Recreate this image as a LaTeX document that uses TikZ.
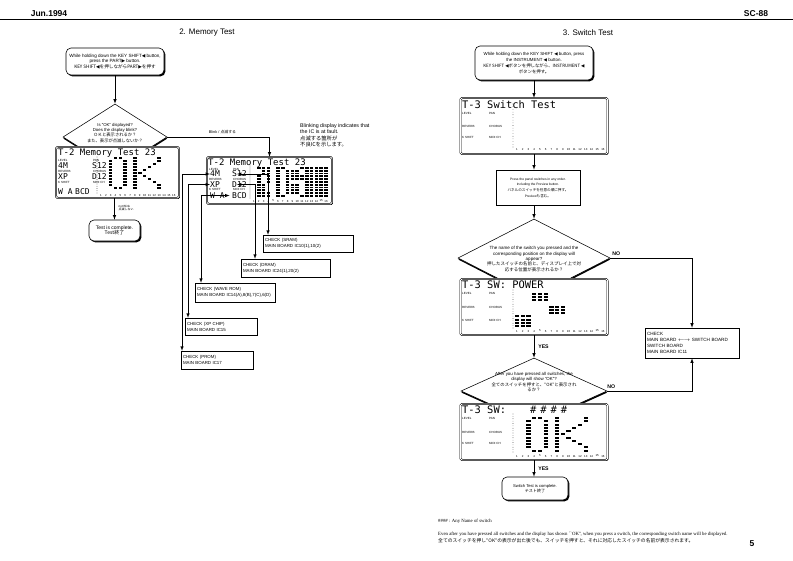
\documentclass[tikz,border=0pt]{standalone}
\usepackage{fontspec}
\setmainfont{Liberation Sans}
\newfontfamily\jp{Noto Sans CJK JP}
\newfontfamily\sym{DejaVu Sans}
\newfontfamily\lcdfont{DejaVu Sans Mono}
\newfontfamily\notefont{Liberation Serif}
\usetikzlibrary{shapes.geometric,shadows}

\newcommand{\keyL}{{\sym ◀}}
\newcommand{\keyR}{{\sym ▶}}

% dot matrix maps (column/row)
\newcommand{\okmap}{2/1,2/2,2/3,2/4,2/5,2/6,2/7,2/8,2/9,3/0,4/0,3/10,4/10,5/1,5/2,5/3,5/4,5/5,5/6,5/7,5/8,5/9,7/0,7/1,7/2,7/3,7/4,7/5,7/6,7/7,7/8,7/9,7/10,8/5,9/4,9/6,10/3,10/7,11/2,11/8,12/0,12/1,12/9,12/10}
\newcommand{\ngmap}{0/0,0/1,0/2,0/3,0/4,0/5,0/6,0/7,0/8,0/9,0/10,1/1,1/2,2/3,2/4,2/5,3/6,3/7,3/8,4/0,4/1,4/2,4/3,4/4,4/5,4/6,4/7,4/8,4/9,4/10,6/1,6/2,6/3,6/4,6/5,6/6,6/7,6/8,6/9,7/0,8/0,9/0,7/10,8/10,9/10,10/1,10/2,8/5,9/5,10/5,10/6,10/7,10/8,10/9}
\newcommand{\powermap}{3/0,4/0,5/0,3/1,4/1,5/1,3/2,4/2,5/2,6/4,7/4,8/4,6/5,7/5,8/5,6/6,7/6,8/6,0/7,1/7,2/7,0/8,1/8,2/8,0/9,1/9,2/9,0/10,1/10,2/10}

% x0, y0, dx, dy, map
\newcommand{\lcddots}[6][black]{%
  \foreach \cc/\rr in #6 {\fill[#1] (#2+\cc*#4-0.37*#4, #3+\rr*#5) rectangle ++(0.74*#4, 0.62*#5);}}
\newcommand{\lcdfull}[4]{%
  \foreach \cc in {0,...,15} {\foreach \rr in {0,...,10} {\fill (#1+\cc*#3-0.37*#3, #2+\rr*#4) rectangle ++(0.74*#3, 0.62*#4);}}}
\newcommand{\lcdscale}[3]{%
  \foreach \k in {0,...,16} {\fill (#1, {#2+\k*(#3-#2)/16}) circle (0.3);}}
\newcommand{\lcdnums}[4]{%
  \foreach \n in {1,...,16} {\node[lcdnum] (#1\n) at ({#2+(\n-1)*#3}, #4) {\n};}}
\newcommand{\lcdlabels}[6]{%
  \node[lcdlbl] (#1lev) at (#2,#4) {LEVEL}; \node[lcdlbl] (#1pan) at (#3,#4) {PAN};
  \node[lcdlbl] (#1rev) at (#2,#5) {REVERB}; \node[lcdlbl] (#1cho) at (#3,#5) {CHORUS};
  \node[lcdlbl] (#1ksh) at (#2,#6) {K SHIFT}; \node[lcdlbl] (#1mid) at (#3,#6) {MIDI CH};}

\begin{document}
\begin{tikzpicture}[x=1pt, y=-1pt,
    every node/.style={inner sep=0pt},
    hdr/.style={font=\fontsize{8.5}{9}\selectfont\bfseries},
    ttl/.style={font=\fontsize{8}{9}\selectfont},
    startbox/.style={draw, line width=0.6pt, rounded corners=5pt, fill=white, align=center,
      drop shadow={shadow xshift=1.4pt, shadow yshift=-1.4pt, opacity=1, fill=black}},
    stepbox/.style={draw, line width=0.6pt, fill=white, align=center,
      drop shadow={shadow xshift=1.4pt, shadow yshift=-1.4pt, opacity=1, fill=black}},
    chk/.style={draw, line width=0.5pt, fill=white, align=left, inner xsep=2pt,
      font=\fontsize{4.4}{6}\selectfont,
      drop shadow={shadow xshift=1.1pt, shadow yshift=-1.1pt, opacity=1, fill=black}},
    decide/.style={diamond, aspect=1.5, draw, line width=0.55pt, fill=white,
      drop shadow={shadow xshift=0.3pt, shadow yshift=-1.6pt, opacity=1, fill=black}},
    lcd/.style={draw, double, double distance=0.9pt, line width=0.5pt, rounded corners=1.5pt,
      fill=white, drop shadow={shadow xshift=0.9pt, shadow yshift=-0.9pt, opacity=1, fill=black}},
    lcdttl/.style={anchor=west, font=\fontsize{10.4}{10.4}\lcdfont},
    lcdsub/.style={anchor=west, font=\fontsize{9}{9}\lcdfont},
    lcdval/.style={anchor=west, font=\fontsize{8}{8}\lcdfont},
    lcdlbl/.style={anchor=west, font=\fontsize{3}{3}\selectfont},
    lcdnum/.style={font=\fontsize{2.9}{3}\selectfont},
    arr/.style={-latex, line width=0.6pt},
    link/.style={latex-latex, line width=0.5pt},
    lbl/.style={font=\fontsize{3.9}{4.8}\selectfont, align=left},
    yes/.style={font=\fontsize{5.2}{6}\selectfont\bfseries},
    note/.style={anchor=west, font=\fontsize{4.8}{5}\notefont},
  ]
  \fill[white] (0,0) rectangle (793,560);
  \useasboundingbox (0,0) rectangle (793,560);

  % page header
  \node[hdr] (date) at (49,14) {Jun.1994};
  \node[hdr] (model) at (756,14) {SC-88};
  \draw[line width=1.2pt] (0,19.5) -- (793,19.5);
  \node[ttl] (ttlA) at (207,33) {2. Memory Test};
  \node[ttl] (ttlB) at (588,33) {3. Switch Test};

  % ---------------- 2. Memory Test
  \node[startbox, minimum width=98pt, minimum height=27pt, font=\fontsize{4.6}{5.8}\selectfont] (sA) at (115,61.5)
    {While holding down the KEY SHIFT\keyL{} button,\\press the PART\keyR{} button.\\{\jp KEY SHIFT}\keyL{\jp を押しながらPART}\keyR{\jp を押す}};
  \node[decide, minimum width=104pt, minimum height=66pt] (dA) at (115,137) {};
  \node[font=\fontsize{4.3}{5.2}\selectfont, align=center] (dAt) at (115,133)
    {Is ``OK'' displayed?\\Does the display blink?\\{\jp ＯＫと表示されるか？}\\{\jp また、表示が点滅しないか？}};
  \draw[arr] (sA.south) -- (dA.north);

  % LCD: OK
  \node[lcd, minimum width=123pt, minimum height=51pt] (lcdA) at (117.5,172.5) {};
  \node[lcdsub] (aT) at (58,153.5) {T-2 Memory Test  23};
  \node[lcdlbl] (aLev) at (58,160) {LEVEL};
  \node[lcdlbl] (aPan) at (93,160) {PAN};
  \node[lcdval] (a4M) at (58,165.5) {4M};
  \node[lcdval] (aS12) at (92,165.5) {S12};
  \node[lcdlbl] (aRev) at (58,171) {REVERB};
  \node[lcdlbl] (aCho) at (93,171) {CHORUS};
  \node[lcdval] (aXP) at (58,177) {XP};
  \node[lcdval] (aD12) at (92,177) {D12};
  \node[lcdlbl] (aKsh) at (58,182.5) {K SHIFT};
  \node[lcdlbl] (aMid) at (93,182.5) {MIDI CH};
  \node[lcdval] (aWA) at (58,192) {W A};
  \node[lcdval] (aBCD) at (75,192) {BCD};
  \lcdscale{97}{157}{193}
  \lcddots{101}{157}{4.85}{3.0}{\okmap}
  \lcdnums{aN}{101}{4.85}{195.5}

  \node[startbox, minimum width=51pt, minimum height=21pt, font=\fontsize{5}{5.5}\selectfont] (endA) at (114.5,230.5)
    {Test is complete.\\{\jp Test終了}};
  \draw[arr] (endA.north |- lcdA.south) -- (endA.north);
  \node[lbl, anchor=west, font=\fontsize{3}{3.8}\selectfont] (nbA) at (118.5,208) {not Blink\\{\jp 点滅しない}};

  % LCD: NG
  \node[lcd, minimum width=125pt, minimum height=47pt] (lcdB) at (269.5,180.5) {};
  \node[lcdsub] (bT) at (208,163) {T-2 Memory Test  23};
  \node[lcdlbl] (bLev) at (209,169) {LEVEL};
  \node[lcdlbl] (bPan) at (233,169) {PAN};
  \node[lcdval] (b4M) at (210,174) {4M};
  \node[lcdval] (bS12) at (232,174) {S12};
  \node[lcdlbl] (bRev) at (209,179) {REVERB};
  \node[lcdlbl] (bCho) at (233,179) {CHORUS};
  \node[lcdval] (bXP) at (210,184.5) {XP};
  \node[lcdval] (bD12) at (232,184.5) {D12};
  \node[lcdlbl] (bKsh) at (209,189.5) {K SHIFT};
  \node[lcdlbl] (bMid) at (233,189.5) {MIDI CH};
  \node[lcdval] (bWA) at (210,195.5) {W A};
  \node[lcdval] (bBCD) at (232,195.5) {BCD};
  \lcdscale{250}{166}{198}
  \lcdfull{254}{167}{4.8}{2.8}
  \lcddots[white]{254}{167}{4.8}{2.8}{\ngmap}
  \lcdnums{bN}{254}{4.8}{201}

  \draw[arr] (dA.east) -| node[pos=0.27, above=3pt, lbl] (blA) {Blink / {\jp 点滅する}} (lcdB.north);
  \node[lbl, anchor=north west, font=\fontsize{5.3}{6.4}\selectfont] (hint) at (300,123.5)
    {Blinking display indicates that\\the IC is at fault.\\{\jp 点滅する箇所が}\\{\jp 不良ICを示します。}};

  % checks
  \node[chk, text width=86pt, minimum height=17pt] (chkSram) at (308,243.5) {CHECK (SRAM)\\MAIN BOARD IC10(1),10(2)};
  \node[chk, text width=85pt, minimum height=18pt] (chkDram) at (285.5,268) {CHECK (DRAM)\\MAIN BOARD IC24(1),20(2)};
  \node[chk, text width=76pt, minimum height=19pt] (chkWave) at (235,292.5) {CHECK (WAVE ROM)\\MAIN BOARD IC14(A),8(B),7(C),6(D)};
  \node[chk, text width=68pt, minimum height=17pt] (chkXp) at (221,326.5) {CHECK (XP CHIP)\\MAIN BOARD IC15};
  \node[chk, text width=68pt, minimum height=18pt] (chkProm) at (217,360) {CHECK (PROM)\\MAIN BOARD IC17};

  \coordinate (pS) at (237,174);
  \coordinate (pD) at (237,184.5);
  \coordinate (pW) at (229.5,195.5);
  \coordinate (pX) at (210,184.5);
  \coordinate (pM) at (210,174);
  \draw[link] (pS) -| ([xshift=-40pt]chkSram.north);
  \draw[link] (pD) -| ([xshift=-30.5pt]chkDram.north);
  \draw[link] (pW) -| ([xshift=-34pt]chkWave.north);
  \draw[link] (pX) -| ([xshift=-33pt]chkXp.north);
  \draw[link] (pM) -| ([xshift=-35pt]chkProm.north);

  % ---------------- 3. Switch Test
  \node[startbox, minimum width=118pt, minimum height=34pt, font=\fontsize{4.4}{5.8}\selectfont] (sB) at (534,63)
    {While holding down the KEY SHIFT \keyL{} button, press\\the INSTRUMENT \keyL{} button.\\{\jp KEY SHIFT }\keyL{\jp ボタンを押しながら、INSTRUMENT }\keyL\\{\jp ボタンを押す。}};

  % LCD: switch test
  \node[lcd, minimum width=147pt, minimum height=56pt] (lcdC) at (534,126) {};
  \node[lcdttl] (cT) at (462,104.5) {T-3 Switch Test};
  \lcdlabels{c}{462}{489}{113}{126.5}{137}
  \lcdscale{513}{104}{147}
  \lcdnums{cN}{517}{5.73}{149.5}
  \draw[arr] (sB.south) -- (lcdC.north);

  \node[stepbox, minimum width=84pt, minimum height=35pt, font=\fontsize{3.3}{5.7}\selectfont] (pressB) at (538,187.5)
    {Press the panel switches in any order.\\Including the Preview button.\\{\jp\fontsize{3.6}{5.7}\selectfont パネルのスイッチを任意の順に押す。}\\Preview{\jp\fontsize{3.6}{5.7}\selectfont も含む。}};
  \draw[arr] (lcdC.south) -- (lcdC.south |- pressB.north);

  \node[decide, minimum width=152pt, minimum height=78pt] (dB) at (534,258) {};
  \node[font=\fontsize{4.5}{5.4}\selectfont, align=center] (dBt) at (534,259)
    {The name of the switch you pressed and the\\corresponding position on the display will\\appear?\\{\jp 押したスイッチの名前と、ディスプレイ上で対}\\{\jp 応する位置が表示されるか？}};
  \draw[arr] (lcdC.south |- pressB.south) -- (dB.north);

  % LCD: POWER
  \node[lcd, minimum width=147pt, minimum height=56pt] (lcdD) at (534,307) {};
  \node[lcdttl] (dT) at (462,285) {T-3  SW:   POWER};
  \lcdlabels{d}{462}{489}{293.5}{307.5}{320}
  \lcdscale{513}{290}{328}
  \lcddots{517}{293}{5.73}{3.2}{\powermap}
  \lcdnums{dN}{517}{5.73}{331}

  \node[decide, minimum width=146pt, minimum height=66pt] (dC) at (534,391) {};
  \node[font=\fontsize{4.4}{5.1}\selectfont, align=center] (dCt) at (534,382)
    {After you have pressed all switches, the\\display will show ``OK''?\\{\jp 全てのスイッチを押すと、“OK”と表示され}\\{\jp るか？}};
  \draw[arr] (lcdD.south) -- node[yes, right=4pt] (yesA) {YES} (dC.north);

  % LCD: OK
  \node[lcd, minimum width=147pt, minimum height=56pt] (lcdE) at (534,432) {};
  \node[lcdttl] (eT) at (462,409.5) {T-3  SW:};
  \node[lcdttl] (eName) at (530,409.5) {\#\hspace{4pt}\#\hspace{4pt}\#\hspace{4pt}\#};
  \lcdlabels{e}{462}{489}{418.5}{432}{443}
  \lcdscale{513}{414}{452}
  \lcddots{517}{417}{5.73}{3.25}{\okmap}
  \lcdnums{eN}{517}{5.73}{456}

  \node[startbox, minimum width=66pt, minimum height=23pt, font=\fontsize{4.1}{5.2}\selectfont] (endB) at (535,488.5)
    {Switch Test is complete.\\{\jp テスト終了}};
  \draw[arr] (lcdE.south) -- node[yes, right=4pt] (yesB) {YES} (lcdE.south |- endB.north);

  \node[chk, text width=90pt, minimum height=30pt, font=\fontsize{4.6}{6}\selectfont] (chkSw) at (692,343)
    {CHECK\\MAIN BOARD $\longleftrightarrow$ SWITCH BOARD\\SWITCH BOARD\\MAIN BOARD IC11};
  \draw[arr] (dB.east) -| (chkSw.north);
  \draw[arr] (dC.east) -| (chkSw.south);
  \node[yes, anchor=south west] (noA) at ([xshift=2pt, yshift=2pt]dB.east) {NO};
  \node[yes, anchor=south west] (noB) at ([xshift=0pt, yshift=2pt]dC.east) {NO};

  % notes
  \node[note] (nt1) at (438,521) {\#\#\#\# : Any Name of switch};
  \node[note] (nt2) at (438,534) {Even after you have pressed all switches and the display has shown ``OK'', when you press a switch, the corresponding switch name will be displayed.};
  \node[note, font=\fontsize{4.8}{5}\jp] (nt3) at (438,541) {全てのスイッチを押し“OK”の表示が出た後でも、スイッチを押すと、それに対応したスイッチの名前が表示されます。};
  \node[hdr] (page) at (752,544) {5};
\end{tikzpicture}
\end{document}
